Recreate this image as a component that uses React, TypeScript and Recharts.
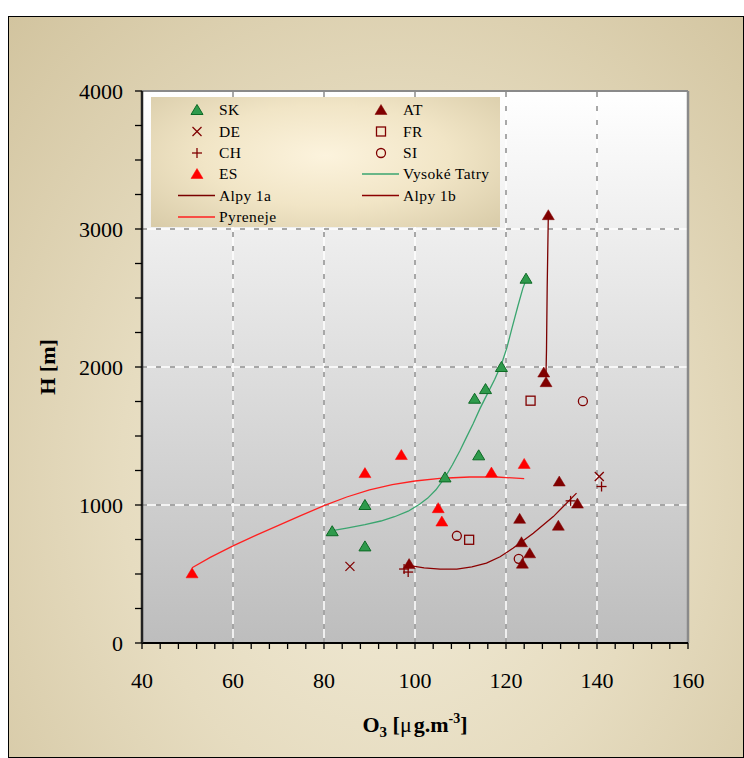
import React from "react"
import { ScatterChart, Scatter, XAxis, YAxis, CartesianGrid, ReferenceLine, Label } from "recharts"

const sk = [
  { x: 81.8, y: 810 }, { x: 89, y: 1000 }, { x: 89, y: 700 }, { x: 106.6, y: 1200 },
  { x: 113.1, y: 1770 }, { x: 115.5, y: 1840 }, { x: 114, y: 1360 }, { x: 119, y: 2000 },
  { x: 124.4, y: 2640 },
]
const at = [
  { x: 129.3, y: 3100 }, { x: 128.3, y: 1960 }, { x: 128.8, y: 1890 }, { x: 131.7, y: 1170 },
  { x: 135.7, y: 1010 }, { x: 123, y: 900 }, { x: 131.5, y: 850 }, { x: 123.4, y: 730 },
  { x: 125.2, y: 650 }, { x: 123.6, y: 575 }, { x: 98.7, y: 572 },
]
const de = [{ x: 85.7, y: 555 }, { x: 140.5, y: 1206 }]
const ch = [{ x: 97.6, y: 536 }, { x: 98.5, y: 514 }, { x: 134.2, y: 1030 }, { x: 141, y: 1134 }]
const fr = [{ x: 125.4, y: 1756 }, { x: 111.9, y: 748 }]
const si = [{ x: 136.9, y: 1752 }, { x: 109.2, y: 777 }, { x: 122.8, y: 610 }]
const es = [
  { x: 51, y: 505 }, { x: 97, y: 1362 }, { x: 89, y: 1231 }, { x: 116.8, y: 1235 },
  { x: 124, y: 1298 }, { x: 105.1, y: 977 }, { x: 105.9, y: 880 },
]

// fitted curves
const tatry = [
  { x: 81.8, y: 815 }, { x: 85, y: 833 }, { x: 89, y: 858 }, { x: 92.5, y: 884 },
  { x: 95.5, y: 915 }, { x: 98.5, y: 955 }, { x: 101, y: 1005 }, { x: 102.8, y: 1050 },
  { x: 104.6, y: 1110 }, { x: 106.6, y: 1200 }, { x: 108.2, y: 1290 }, { x: 109.9, y: 1395 },
  { x: 111.3, y: 1490 }, { x: 112.8, y: 1590 }, { x: 114.3, y: 1700 }, { x: 115.9, y: 1805 },
  { x: 117.5, y: 1910 }, { x: 119, y: 2020 }, { x: 120.2, y: 2140 }, { x: 121.3, y: 2280 },
  { x: 122.6, y: 2440 }, { x: 123.7, y: 2570 }, { x: 124.4, y: 2630 },
]
const alpy1a = [{ x: 128.8, y: 1960 }, { x: 128.9, y: 2123 }, { x: 129.05, y: 2569 }, { x: 129.3, y: 3100 }]
const alpy1b = [
  { x: 98.9, y: 560 }, { x: 102, y: 545 }, { x: 105.5, y: 536 }, { x: 109.2, y: 536 },
  { x: 112.5, y: 552 }, { x: 115.7, y: 579 }, { x: 118.7, y: 625 }, { x: 121.6, y: 688 },
  { x: 126, y: 796 }, { x: 130.4, y: 916 }, { x: 135.5, y: 1086 },
]
const pyreneje = [
  { x: 51, y: 545 }, { x: 55, y: 620 }, { x: 60, y: 704 }, { x: 65, y: 780 },
  { x: 70, y: 853 }, { x: 75, y: 925 }, { x: 80, y: 995 }, { x: 85, y: 1058 },
  { x: 90, y: 1110 }, { x: 95, y: 1148 }, { x: 100, y: 1174 }, { x: 106, y: 1194 },
  { x: 112, y: 1203 }, { x: 118, y: 1203 }, { x: 124, y: 1191 },
]

const xTicks = [40, 44, 48, 52, 56, 60, 64, 68, 72, 76, 80, 84, 88, 92, 96, 100, 104, 108, 112, 116, 120, 124, 128, 132, 136, 140, 144, 148, 152, 156, 160]
const yTicks = [0, 250, 500, 750, 1000, 1250, 1500, 1750, 2000, 2250, 2500, 2750, 3000, 3250, 3500, 3750, 4000]
const xGrid = [60, 80, 100, 120, 140]
const yGrid = [1000, 2000, 3000]

const FONT = "'Liberation Serif', 'Times New Roman', serif"
const DARK = "#800000"

const legendItems = [
  { name: "SK", kind: "sk" }, { name: "AT", kind: "at" },
  { name: "DE", kind: "de" }, { name: "FR", kind: "fr" },
  { name: "CH", kind: "ch" }, { name: "SI", kind: "si" },
  { name: "ES", kind: "es" }, { name: "Vysoké Tatry", line: "#3aa56f" },
  { name: "Alpy 1a", line: "#7a0000" }, { name: "Alpy 1b", line: "#8b0000" },
  { name: "Pyreneje", line: "#ff2020" },
]

function Marker({ kind, cx, cy }: any) {
  if (cx == null || cy == null) return <g />
  const tri = `${cx},${cy - 5.5} ${cx + 6},${cy + 4.5} ${cx - 6},${cy + 4.5}`
  switch (kind) {
    case "sk":
      return <polygon points={tri} fill="#2f9a4c" stroke="#0d6a25" strokeWidth={1} />
    case "es":
      return <polygon points={tri} fill="#ff0000" stroke="#ff0000" strokeWidth={0.5} />
    case "at":
      return <polygon points={tri} fill={DARK} stroke={DARK} strokeWidth={0.5} />
    case "de":
      return (
        <g stroke={DARK} strokeWidth={1.3}>
          <line x1={cx - 4.5} y1={cy - 4.5} x2={cx + 4.5} y2={cy + 4.5} />
          <line x1={cx - 4.5} y1={cy + 4.5} x2={cx + 4.5} y2={cy - 4.5} />
        </g>
      )
    case "ch":
      return (
        <g stroke={DARK} strokeWidth={1.3}>
          <line x1={cx - 5} y1={cy} x2={cx + 5} y2={cy} />
          <line x1={cx} y1={cy - 5} x2={cx} y2={cy + 5} />
        </g>
      )
    case "fr":
      return <rect x={cx - 4.5} y={cy - 4.5} width={9} height={9} fill="none" stroke={DARK} strokeWidth={1.3} />
    case "si":
      return <circle cx={cx} cy={cy} r={4.5} fill="none" stroke={DARK} strokeWidth={1.3} />
  }
  return <g />
}

const XTick = ({ x, y, payload }: any) => {
  const major = payload.value % 20 === 0
  return (
    <g>
      <line x1={x} x2={x} y1={y} y2={y + 6} stroke="#000" strokeWidth={1.3} />
      {major && (
        <text x={x} y={y + 45} textAnchor="middle" fontSize={22} fontFamily={FONT} fill="#000">
          {payload.value}
        </text>
      )}
    </g>
  )
}

const YTick = ({ x, y, payload }: any) => {
  const major = payload.value % 1000 === 0
  return (
    <g>
      <line x1={x - 7} x2={x} y1={y} y2={y} stroke="#000" strokeWidth={1.3} />
      {major && (
        <text x={x - 19} y={y + 7.5} textAnchor="end" fontSize={22} fontFamily={FONT} fill="#000">
          {payload.value}
        </text>
      )}
    </g>
  )
}

const XTitle = ({ viewBox }: any) => {
  const cx = viewBox.x + viewBox.width / 2
  return (
    <text x={cx} y={viewBox.y + 89} textAnchor="middle" fontSize={22} fontWeight="bold" fontFamily={FONT} fill="#000">
      O<tspan fontSize={15} dy={5}>3</tspan>
      <tspan dy={-5}> [</tspan>
      <tspan fontWeight="normal">μ</tspan>
      <tspan dx={2}>g.m</tspan>
      <tspan fontSize={14} dy={-9}>-3</tspan>
      <tspan dy={9}>]</tspan>
    </text>
  )
}

const YTitle = ({ viewBox }: any) => {
  const cx = viewBox.x - 35
  const cy = viewBox.y + viewBox.height / 2
  return (
    <text x={cx} y={cy} transform={`rotate(-90 ${cx} ${cy})`} dy={8} textAnchor="middle" fontSize={22} fontWeight="bold" fontFamily={FONT} fill="#000">
      H [m]
    </text>
  )
}

function LegendBox() {
  const colX = [0, 184]
  const rowY = [13, 34.5, 56, 77, 98.5, 120]
  return (
    <div
      style={{
        position: "absolute", left: 151, top: 97, width: 349, height: 130,
        background: "radial-gradient(ellipse at 50% 45%, #fcf3dd 0%, #f1e5c6 50%, #d8cba8 100%)",
      }}
    >
      <svg width={349} height={130}>
        {legendItems.map((item, i) => {
          const ox = colX[i % 2]
          const cy = rowY[Math.floor(i / 2)]
          return (
            <g key={item.name}>
              {item.line ? (
                <line x1={ox + 27} x2={ox + 64} y1={cy} y2={cy} stroke={item.line} strokeWidth={1.5} />
              ) : (
                <Marker kind={item.kind} cx={ox + 46} cy={cy} />
              )}
              <text x={ox + 68} y={cy + 5} fontSize={15.5} letterSpacing={0.4} fontFamily={FONT} fill="#000">
                {item.name}
              </text>
            </g>
          )
        })}
      </svg>
    </div>
  )
}

const noDot = () => <g />

export default function App() {
  const markerSeries: [string, any[]][] = [
    ["es", es], ["sk", sk], ["de", de], ["ch", ch], ["fr", fr], ["si", si], ["at", at],
  ]
  return (
    <div style={{ position: "absolute", left: 0, top: 0, width: 744, height: 758, background: "#fff", overflow: "hidden" }}>
      <svg width={0} height={0} style={{ position: "absolute" }}>
        <defs>
          <linearGradient id="plotBg" x1="0" y1="0" x2="0" y2="1">
            <stop offset="0" stopColor="#ffffff" />
            <stop offset="1" stopColor="#bdbdbd" />
          </linearGradient>
        </defs>
      </svg>
      <div
        style={{
          position: "absolute", left: 8, top: 16, width: 736, height: 742,
          border: "1px solid #000", boxSizing: "border-box",
          background: "radial-gradient(ellipse at 52% 62%, #f4eedb 0%, #e6dcc0 50%, #d2c49f 100%)",
        }}
      />
      <div style={{ position: "absolute", left: 0, top: 0 }}>
        <ScatterChart width={744} height={758} margin={{ top: 91, right: 56, bottom: 85, left: 82 }}>
          <CartesianGrid horizontal={false} vertical={false} fill="url(#plotBg)" fillOpacity={1} />
          {xGrid.map((v) => (
            <ReferenceLine key={`xw${v}`} x={v} stroke="#ffffff" strokeWidth={1.5} />
          ))}
          {xGrid.map((v) => (
            <ReferenceLine key={`xg${v}`} x={v} stroke="#8c8c8c" strokeWidth={1.5} strokeDasharray="5 9" />
          ))}
          {yGrid.map((v) => (
            <ReferenceLine key={`yw${v}`} y={v} stroke="#ffffff" strokeWidth={1.5} />
          ))}
          {yGrid.map((v) => (
            <ReferenceLine key={`yg${v}`} y={v} stroke="#8c8c8c" strokeWidth={1.5} strokeDasharray="5 9" />
          ))}
          <ReferenceLine y={4000} stroke="#8a8a8a" strokeWidth={2} />
          <ReferenceLine x={160} stroke="#8a8a8a" strokeWidth={2.5} />
          <XAxis
            type="number"
            dataKey="x"
            domain={[40, 160]}
            ticks={xTicks}
            interval={0}
            tickSize={0}
            tickMargin={0}
            tickLine={false}
            tick={<XTick />}
            axisLine={{ stroke: "#000", strokeWidth: 1.8 }}
            height={30}
            allowDataOverflow
            label={<Label content={<XTitle />} />}
          />
          <YAxis
            type="number"
            dataKey="y"
            domain={[0, 4000]}
            ticks={yTicks}
            interval={0}
            tickSize={0}
            tickMargin={0}
            tickLine={false}
            tick={<YTick />}
            axisLine={{ stroke: "#222", strokeWidth: 2.5 }}
            width={60}
            allowDataOverflow
            label={<Label content={<YTitle />} />}
          />
          <Scatter data={pyreneje} line={{ stroke: "#ff2020", strokeWidth: 1.3 }} shape={noDot} isAnimationActive={false} />
          <Scatter data={tatry} line={{ stroke: "#3aa56f", strokeWidth: 1.3 }} shape={noDot} isAnimationActive={false} />
          <Scatter data={alpy1a} line={{ stroke: "#7a0000", strokeWidth: 1.3 }} shape={noDot} isAnimationActive={false} />
          <Scatter data={alpy1b} line={{ stroke: "#8b0000", strokeWidth: 1.3 }} shape={noDot} isAnimationActive={false} />
          {markerSeries.map(([kind, data]) => (
            <Scatter
              key={kind}
              data={data}
              shape={(p: any) => <Marker kind={kind} cx={p.cx} cy={p.cy} />}
              isAnimationActive={false}
            />
          ))}
        </ScatterChart>
      </div>
      <LegendBox />
    </div>
  )
}
